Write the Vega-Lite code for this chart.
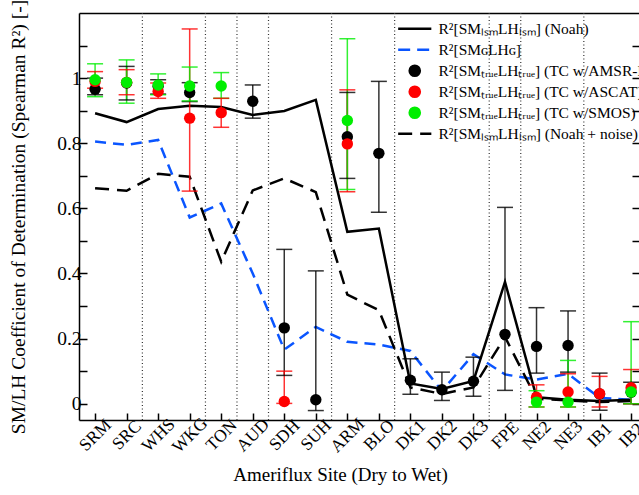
{
  "$schema": "https://vega.github.io/schema/vega-lite/v6.json",
  "width": 560,
  "height": 407,
  "autosize": {"type": "none"},
  "padding": {"left": 79, "top": 13, "right": 0, "bottom": 75},
  "background": "white",
  "config": {
    "font": "Liberation Serif",
    "view": {"stroke": null},
    "legend": {"rowPadding": 4},
    "axis": {"grid": false, "domainColor": "black", "domainWidth": 1.5, "tickColor": "black", "tickWidth": 1.5, "labelColor": "black", "titleColor": "black", "titleFontWeight": "normal"}
  },
  "datasets": {
    "lines": [
      {"i": 1, "noah": 0.892, "g": 0.805, "noise": 0.662},
      {"i": 2, "noah": 0.865, "g": 0.795, "noise": 0.654},
      {"i": 3, "noah": 0.905, "g": 0.81, "noise": 0.706},
      {"i": 4, "noah": 0.915, "g": 0.572, "noise": 0.697},
      {"i": 5, "noah": 0.911, "g": 0.615, "noise": 0.436},
      {"i": 6, "noah": 0.887, "g": 0.4, "noise": 0.655},
      {"i": 7, "noah": 0.899, "g": 0.166, "noise": 0.692},
      {"i": 8, "noah": 0.933, "g": 0.236, "noise": 0.65},
      {"i": 9, "noah": 0.528, "g": 0.19, "noise": 0.335},
      {"i": 10, "noah": 0.538, "g": 0.182, "noise": 0.287},
      {"i": 11, "noah": 0.062, "g": 0.162, "noise": 0.05},
      {"i": 12, "noah": 0.045, "g": 0.039, "noise": 0.03},
      {"i": 13, "noah": 0.07, "g": 0.152, "noise": 0.05},
      {"i": 14, "noah": 0.374, "g": 0.09, "noise": 0.205},
      {"i": 15, "noah": 0.02, "g": 0.074, "noise": 0.015},
      {"i": 16, "noah": 0.012, "g": 0.092, "noise": 0.01},
      {"i": 17, "noah": 0.008, "g": 0.018, "noise": 0.005},
      {"i": 18, "noah": 0.012, "g": 0.012, "noise": 0.008}
    ],
    "pts": [
      {"i": 1, "s": "amsre", "v": 0.966, "lo": 0.949, "hi": 1.0},
      {"i": 2, "s": "amsre", "v": 0.985, "lo": 0.933, "hi": 1.036},
      {"i": 3, "s": "amsre", "v": 0.975, "lo": 0.951, "hi": 0.995},
      {"i": 4, "s": "amsre", "v": 0.956, "lo": 0.928, "hi": 0.986},
      {"i": 6, "s": "amsre", "v": 0.929, "lo": 0.877, "hi": 0.979},
      {"i": 7, "s": "amsre", "v": 0.233, "lo": 0.087, "hi": 0.474},
      {"i": 8, "s": "amsre", "v": 0.012, "lo": -0.021, "hi": 0.408},
      {"i": 9, "s": "amsre", "v": 0.82, "lo": 0.692, "hi": 0.956},
      {"i": 10, "s": "amsre", "v": 0.769, "lo": 0.588, "hi": 0.99},
      {"i": 11, "s": "amsre", "v": 0.072, "lo": 0.029, "hi": 0.138},
      {"i": 12, "s": "amsre", "v": 0.043, "lo": 0.01, "hi": 0.097},
      {"i": 13, "s": "amsre", "v": 0.069, "lo": 0.023, "hi": 0.143},
      {"i": 14, "s": "amsre", "v": 0.213, "lo": 0.041, "hi": 0.603},
      {"i": 15, "s": "amsre", "v": 0.176, "lo": 0.094, "hi": 0.295},
      {"i": 16, "s": "amsre", "v": 0.179, "lo": 0.097, "hi": 0.285},
      {"i": 17, "s": "amsre", "v": 0.03, "lo": -0.02, "hi": 0.094},
      {"i": 18, "s": "amsre", "v": 0.035, "lo": 0.0, "hi": 0.066},
      {"i": 1, "s": "ascat", "v": 0.99, "lo": 0.969, "hi": 1.02},
      {"i": 2, "s": "ascat", "v": 0.987, "lo": 0.949, "hi": 1.026},
      {"i": 3, "s": "ascat", "v": 0.959, "lo": 0.938, "hi": 0.985},
      {"i": 4, "s": "ascat", "v": 0.877, "lo": 0.653, "hi": 1.151},
      {"i": 5, "s": "ascat", "v": 0.894, "lo": 0.849, "hi": 0.938},
      {"i": 7, "s": "ascat", "v": 0.007, "lo": 0.001, "hi": 0.1},
      {"i": 9, "s": "ascat", "v": 0.798, "lo": 0.651, "hi": 0.964},
      {"i": 15, "s": "ascat", "v": 0.02, "lo": -0.01, "hi": 0.058},
      {"i": 16, "s": "ascat", "v": 0.036, "lo": -0.01, "hi": 0.092},
      {"i": 17, "s": "ascat", "v": 0.031, "lo": -0.01, "hi": 0.084},
      {"i": 18, "s": "ascat", "v": 0.049, "lo": 0.0, "hi": 0.105},
      {"i": 1, "s": "smos", "v": 0.995, "lo": 0.943, "hi": 1.044},
      {"i": 2, "s": "smos", "v": 0.987, "lo": 0.923, "hi": 1.056},
      {"i": 3, "s": "smos", "v": 0.979, "lo": 0.949, "hi": 1.013},
      {"i": 4, "s": "smos", "v": 0.976, "lo": 0.93, "hi": 1.034},
      {"i": 5, "s": "smos", "v": 0.976, "lo": 0.938, "hi": 1.017},
      {"i": 9, "s": "smos", "v": 0.87, "lo": 0.658, "hi": 1.121},
      {"i": 15, "s": "smos", "v": 0.005, "lo": -0.01, "hi": 0.04},
      {"i": 16, "s": "smos", "v": 0.005, "lo": -0.01, "hi": 0.133},
      {"i": 18, "s": "smos", "v": 0.036, "lo": 0.0, "hi": 0.252}
    ],
    "div": [{"x": 2.5}, {"x": 4.5}, {"x": 5.5}, {"x": 6.5}, {"x": 8.5}, {"x": 10.5}, {"x": 13.5}, {"x": 14.5}, {"x": 16.5}]
  },
  "resolve": {"axis": {"x": "independent", "y": "independent"}},
  "layer": [
    {
      "data": {"name": "div"},
      "mark": {"type": "rule", "color": "#333333", "strokeDash": [1, 2.5], "strokeWidth": 1.2},
      "encoding": {
        "x": {"field": "x", "type": "quantitative",
          "scale": {"domain": [0.49, 18.25], "nice": false, "zero": false},
          "axis": {"orient": "bottom", "values": [1,2,3,4,5,6,7,8,9,10,11,12,13,14,15,16,17,18],
            "labelExpr": "['SRM','SRC','WHS','WKG','TON','AUD','SDH','SUH','ARM','BLO','DK1','DK2','DK3','FPE','NE2','NE3','IB1','IB2'][datum.value-1]",
            "labelAngle": 315, "labelAlign": "center", "labelBaseline": "middle", "labelFontSize": 17.5, "labelPadding": 22,
            "tickSize": -7, "labelFlush": false, "labelOverlap": false, "labelBound": false,
            "encode": {"labels": {"update": {"angle": {"value": -45}, "align": {"value": "center"}, "baseline": {"value": "middle"}}}},
            "title": "Ameriflux Site (Dry to Wet)", "titleFontSize": 19, "titleX": 261, "titleY": 60, "titleBaseline": "alphabetic", "titleAnchor": null, "titleAlign": "center"}}
      }
    },
    {
      "data": {"name": "lines"},
      "transform": [{"fold": ["g"], "as": ["s", "v"]}],
      "mark": {"type": "line", "strokeWidth": 2.5, "strokeDash": [11, 7]},
      "encoding": {
        "x": {"field": "i", "type": "quantitative", "axis": null},
        "y": {"field": "v", "type": "quantitative", "axis": {"orient": "right", "labels": false, "title": null, "domain": false, "tickSize": -7, "values": [0,0.1,0.2,0.3,0.4,0.5,0.6,0.7,0.8,0.9,1,1.1]}},
        "color": {"field": "s", "type": "nominal"}
      }
    },
    {
      "data": {"name": "lines"},
      "transform": [{"fold": ["noise"], "as": ["s", "v"]}],
      "mark": {"type": "line", "strokeWidth": 2.5, "strokeDash": [14, 8]},
      "encoding": {
        "x": {"field": "i", "type": "quantitative", "axis": null},
        "y": {"field": "v", "type": "quantitative", "axis": null},
        "color": {"field": "s", "type": "nominal"}
      }
    },
    {
      "data": {"name": "lines"},
      "transform": [{"fold": ["noah"], "as": ["s", "v"]}],
      "mark": {"type": "line", "strokeWidth": 2.5},
      "encoding": {
        "x": {"field": "i", "type": "quantitative", "axis": {"orient": "top", "ticks": false, "labels": false, "title": null}},
        "y": {"field": "v", "type": "quantitative",
          "scale": {"domain": [-0.05, 1.2], "nice": false, "zero": false},
          "axis": {"orient": "left", "values": [0,0.1,0.2,0.3,0.4,0.5,0.6,0.7,0.8,0.9,1,1.1],
            "labelExpr": "round(datum.value*10) % 2 == 0 ? format(datum.value, '~g') : ''",
            "tickSize": -8, "labelPadding": 6, "labelFontSize": 19.5,
            "encode": {"labels": {"update": {"x": {"value": -11}, "align": {"value": "right"}}}},
            "title": "SM/LH Coefficient of Determination (Spearman R²) [-]", "titleFontSize": 19.5,
            "titleX": -61, "titleY": 203.5, "titleBaseline": "middle", "titleAngle": -90, "titleAlign": "center"}},
        "color": {"field": "s", "type": "nominal",
          "scale": {"domain": ["noah", "g", "amsre", "ascat", "smos", "noise"], "range": ["#000000", "#0a55ff", "#000000", "#ff0000", "#00ee00", "#000000"]},
          "legend": {"orient": "none", "legendX": 328, "legendY": 8, "title": null, "padding": 0, "gridAlign": "all",
            "direction": "vertical", "columns": 1,
            "labelFontSize": 15.5, "labelColor": "black", "labelLimit": 0, "symbolSize": 441, "symbolStrokeWidth": 0, "rowPadding": 4, "labelOffset": 16,
            "labelExpr": "datum.value == 'noah' ? 'R²[SMₗₛₘLHₗₛₘ] (Noah)' : datum.value == 'g' ? 'R²[SMɢLHɢ]' : datum.value == 'amsre' ? 'R²[SMₜᵣᵤₑLHₜᵣᵤₑ] (TC w/AMSR-E)' : datum.value == 'ascat' ? 'R²[SMₜᵣᵤₑLHₜᵣᵤₑ] (TC w/ASCAT)' : datum.value == 'smos' ? 'R²[SMₜᵣᵤₑLHₜᵣᵤₑ] (TC w/SMOS)' : 'R²[SMₗₛₘLHₗₛₘ] (Noah + noise)'",
            "encode": {"symbols": {"update": {
              "shape": {"signal": "indexof(['noah','g','noise'], datum.value) >= 0 ? 'stroke' : 'circle'"},
              "size": {"signal": "indexof(['noah','g','noise'], datum.value) >= 0 ? 1100 : 160"},
              "fill": {"signal": "indexof(['noah','g','noise'], datum.value) >= 0 ? 'transparent' : scale('color', datum.value)"},
              "stroke": {"signal": "indexof(['noah','g','noise'], datum.value) >= 0 ? scale('color', datum.value) : 'transparent'"},
              "strokeWidth": {"signal": "indexof(['noah','g','noise'], datum.value) >= 0 ? 2.5 : 0"},
              "strokeDash": {"signal": "datum.value == 'g' ? [12,7] : datum.value == 'noise' ? [14,8] : [1,0]"},
              "opacity": {"value": 1},
              "fillOpacity": {"value": 1}
            }}}}
        }
      }
    },
    {
      "data": {"name": "pts"},
      "mark": {"type": "rule", "strokeWidth": 1.5, "opacity": 0.8},
      "encoding": {
        "x": {"field": "i", "type": "quantitative", "axis": null},
        "y": {"field": "lo", "type": "quantitative", "axis": null},
        "y2": {"field": "hi"},
        "color": {"field": "s", "type": "nominal"}
      }
    },
    {
      "data": {"name": "pts"},
      "mark": {"type": "tick", "orient": "horizontal", "size": 16, "thickness": 1.5, "opacity": 0.8},
      "encoding": {
        "x": {"field": "i", "type": "quantitative", "axis": null},
        "y": {"field": "lo", "type": "quantitative", "axis": null},
        "color": {"field": "s", "type": "nominal"}
      }
    },
    {
      "data": {"name": "pts"},
      "mark": {"type": "tick", "orient": "horizontal", "size": 16, "thickness": 1.5, "opacity": 0.8},
      "encoding": {
        "x": {"field": "i", "type": "quantitative", "axis": null},
        "y": {"field": "hi", "type": "quantitative", "axis": null},
        "color": {"field": "s", "type": "nominal"}
      }
    },
    {
      "data": {"name": "pts"},
      "mark": {"type": "point", "filled": true, "size": 130, "opacity": 1, "strokeWidth": 0},
      "encoding": {
        "x": {"field": "i", "type": "quantitative", "axis": null},
        "y": {"field": "v", "type": "quantitative", "axis": null},
        "color": {"field": "s", "type": "nominal"}
      }
    }
  ]
}
